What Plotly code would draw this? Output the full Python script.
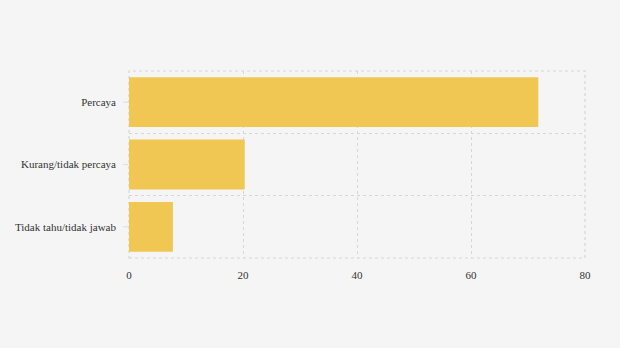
import plotly.graph_objects as go

categories = ["Percaya", "Kurang/tidak percaya", "Tidak tahu/tidak jawab"]
values = [71.8, 20.3, 7.7]
x_ticks = [0, 20, 40, 60, 80]

bar_color = "#f0c752"
grid_color = "#d6d6d6"

fig = go.Figure(
    go.Bar(
        x=values,
        y=categories,
        orientation="h",
        marker=dict(color=bar_color, line=dict(width=0)),
        hoverinfo="x+y",
    )
)

fig.update_layout(
    width=620,
    height=348,
    margin=dict(l=129, r=35, t=71, b=90),
    paper_bgcolor="#f5f5f5",
    plot_bgcolor="#f5f5f5",
    font=dict(family="Liberation Serif, Times New Roman, serif", size=11, color="#333333"),
    bargap=0.2,
    showlegend=False,
)

fig.update_xaxes(
    range=[0, 80],
    tickvals=x_ticks,
    showgrid=True,
    gridcolor=grid_color,
    griddash="3px,3px",
    gridwidth=1.2,
    zeroline=False,
    showline=False,
    ticks="",
    ticklabelstandoff=9,
)

fig.update_yaxes(
    categoryorder="array",
    categoryarray=categories[::-1],
    tickson="boundaries",
    showgrid=True,
    gridcolor=grid_color,
    griddash="3px,3px",
    gridwidth=1.2,
    zeroline=False,
    showline=False,
    ticks="",
    ticklabelstandoff=12,
)

# dashed frame around the plot area (edge grid lines)
fig.add_shape(
    type="rect",
    xref="paper",
    yref="paper",
    x0=0,
    x1=1,
    y0=0,
    y1=1,
    line=dict(color=grid_color, width=1.2, dash="3px,3px"),
    layer="below",
)

# small faint ticks at category centres
for c in categories:
    fig.add_shape(
        type="line",
        xref="paper",
        yref="y",
        x0=-0.013,
        x1=-0.002,
        y0=c,
        y1=c,
        line=dict(color="#dddddd", width=1),
    )

fig.write_html("out.html")
